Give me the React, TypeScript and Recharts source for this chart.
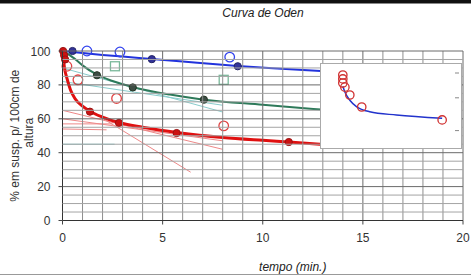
import React from 'react';
import { ComposedChart, Line, Scatter, XAxis, YAxis, Label } from 'recharts';

// ---- data ----
const xTicks = [0, 1, 2, 3, 4, 5, 6, 7, 8, 9, 10, 11, 12, 13, 14, 15, 16, 17, 18, 19, 20];
const xLabelTicks = [0, 5, 10, 15, 20];
const yTicks = [0, 5, 10, 15, 20, 25, 30, 35, 40, 45, 50, 55, 60, 65, 70, 75, 80, 85, 90, 95, 100];
const yLabelTicks = [0, 20, 40, 60, 80, 100];

const blueCurve = [
  { x: 0, y: 100 }, { x: 1, y: 98.8 }, { x: 2, y: 97.7 }, { x: 3, y: 96.7 }, { x: 4.46, y: 95.3 },
  { x: 6, y: 93.8 }, { x: 8.75, y: 91.2 }, { x: 10.5, y: 89.8 }, { x: 12.9, y: 88.2 },
];
const blueFilled = [{ x: 0.5, y: 100 }, { x: 4.46, y: 95.2 }, { x: 8.75, y: 91 }];
const blueOpen = [{ x: 1.22, y: 100 }, { x: 2.87, y: 99.4 }, { x: 8.35, y: 96.4 }];

const greenCurve = [
  { x: 0, y: 100 }, { x: 0.3, y: 98 }, { x: 0.6, y: 95.5 }, { x: 1, y: 91.5 }, { x: 1.72, y: 86 },
  { x: 2.5, y: 82.3 }, { x: 3.5, y: 78.8 }, { x: 5.36, y: 74.3 }, { x: 7.06, y: 71.3 },
  { x: 10, y: 68.3 }, { x: 12.9, y: 65.5 },
];
const greenFilled = [{ x: 1.72, y: 85.7 }, { x: 3.51, y: 78.5 }, { x: 7.06, y: 71.3 }];
const greenOpen = [{ x: 2.62, y: 91 }, { x: 8.05, y: 83 }];

const redCurve = [
  { x: 0, y: 100 }, { x: 0.05, y: 95 }, { x: 0.1, y: 90 }, { x: 0.22, y: 84 }, { x: 0.4, y: 77 },
  { x: 0.62, y: 72 }, { x: 1, y: 67.5 }, { x: 1.37, y: 64.5 }, { x: 2, y: 61 }, { x: 2.8, y: 57.8 },
  { x: 4, y: 55 }, { x: 5.8, y: 51.8 }, { x: 8, y: 49 }, { x: 10, y: 47.3 }, { x: 11.3, y: 46.3 },
  { x: 12.9, y: 45 },
];
const redFilled = [
  { x: 0.03, y: 100 }, { x: 0.08, y: 97.5 }, { x: 0.13, y: 95 },
  { x: 1.37, y: 64.2 }, { x: 2.82, y: 57.6 }, { x: 5.7, y: 51.6 }, { x: 11.3, y: 46.3 },
];
const redOpen = [{ x: 0.22, y: 91 }, { x: 0.77, y: 83 }, { x: 2.7, y: 72 }, { x: 8.05, y: 55.8 }];

const redTangents = [
  [{ x: 1.9, y: 61 }, { x: 6.4, y: 28.5 }],
  [{ x: 0, y: 65 }, { x: 8, y: 42 }],
  [{ x: 0, y: 60 }, { x: 8, y: 47 }],
  [{ x: 0, y: 57 }, { x: 2.5, y: 57 }],
  [{ x: 0, y: 54 }, { x: 2.2, y: 53.5 }],
];
const greenTangents = [
  [{ x: 0, y: 90 }, { x: 8, y: 64 }],
  [{ x: 0, y: 82 }, { x: 8, y: 68 }],
  [{ x: 0, y: 45 }, { x: 2.6, y: 45 }],
];

const insetPoints = [
  { x: 1.52, y: 87.8 }, { x: 1.52, y: 83 }, { x: 1.52, y: 78 }, { x: 1.67, y: 73 },
  { x: 2.03, y: 63.4 }, { x: 2.9, y: 48.8 }, { x: 8.77, y: 33 },
];
const insetCurve = [
  { x: 1.52, y: 74 }, { x: 1.67, y: 67 }, { x: 2.03, y: 57 }, { x: 2.54, y: 49 },
  { x: 3.48, y: 43 }, { x: 5.43, y: 39 }, { x: 8.77, y: 35 },
];
const insetTicks = [0, 20, 40, 60, 80, 100];

// ---- marker shapes ----
const filled = (fill: string, stroke: string, r = 3.6) => (p: any) =>
  <circle cx={p.cx} cy={p.cy} r={r} fill={fill} stroke={stroke} strokeWidth={1} />;
const openCircle = (stroke: string, r = 4.8) => (p: any) =>
  <circle cx={p.cx} cy={p.cy} r={r} fill="none" stroke={stroke} strokeWidth={1.3} />;
const openSquare = (stroke: string, s = 4.5) => (p: any) =>
  <rect x={p.cx - s} y={p.cy - s} width={2 * s} height={2 * s} fill="none" stroke={stroke} strokeWidth={1.3} />;

const font = '"Liberation Sans", Arial, sans-serif';
const PLOT_W = 400.5;
const PLOT_H = 169.5;

// x-axis tick: grid line across the plot + outward tick mark + label (multiples of 5)
const XTick = (p: any) => {
  const { x, y, payload } = p;
  const v = payload.value;
  const lab = xLabelTicks.includes(v);
  return (
    <g>
      <path d={`M${x},${y}V${y - PLOT_H}`} stroke={v === 0 ? '#333' : lab ? '#6a6a6a' : '#8e8e8e'} strokeWidth={1} fill="none" />
      {lab && <path d={`M${x},${y}v4`} stroke="#444" strokeWidth={1} />}
      {lab && (
        <text x={x} y={y + 21} textAnchor="middle" fontFamily={font} fontSize={12} fill="#333">{v}</text>
      )}
    </g>
  );
};

const YTick = (p: any) => {
  const { x, y, payload } = p;
  const v = payload.value;
  const lab = yLabelTicks.includes(v);
  return (
    <g>
      <path d={`M${x},${y}H${x + PLOT_W}`} stroke={v === 0 ? '#333' : lab ? '#6a6a6a' : '#a4a4a4'} strokeWidth={1} fill="none" />
      {lab && <path d={`M${x},${y}h-4`} stroke="#444" strokeWidth={1} />}
      {lab && (
        <text x={x - 12} y={y + 4.5} textAnchor="end" fontFamily={font} fontSize={12} fill="#333">{v}</text>
      )}
    </g>
  );
};

const InsetTick = (p: any) => {
  const { x, y } = p;
  return <path d={`M${x},${y}h-4`} stroke="#888" strokeWidth={1} />;
};

const YLabel = (props: any) => {
  const vb = props.viewBox || {};
  const cy = (vb.y ?? 51) + (vb.height ?? 169) / 2;
  return (
    <g>
      <text x={16} y={cy} transform={`rotate(-90 16 ${cy})`} textAnchor="middle" dominantBaseline="middle"
        fontFamily={font} fontSize={12} fill="#333">% em susp. p/ 100cm de</text>
      <text x={30} y={cy - 3} transform={`rotate(-90 30 ${cy - 3})`} textAnchor="middle" dominantBaseline="middle"
        fontFamily={font} fontSize={12} fill="#333">altura</text>
    </g>
  );
};

export default function App() {
  return (
    <div style={{ position: 'absolute', left: 0, top: 0, width: 471, height: 276, background: '#fff', overflow: 'hidden' }}>
      <div style={{ position: 'absolute', left: 0, top: 0, width: 471, height: 3, background: '#111' }} />
      <div style={{ position: 'absolute', left: 0, top: 3, width: 471, height: 1, background: '#888' }} />
      <div style={{ position: 'absolute', left: 0, top: 274, width: 471, height: 1, background: '#999' }} />
      <div style={{ position: 'absolute', left: 0, top: 6, width: 526, textAlign: 'center', fontFamily: font, fontStyle: 'italic', fontSize: 12, color: '#222' }}>
        Curva de Oden
      </div>
      <div style={{ position: 'absolute', left: 0, top: 0 }}>
        <ComposedChart width={471} height={276} margin={{ top: 51, right: 8, left: 0, bottom: 0 }}>
          <XAxis type="number" dataKey="x" domain={[0, 20]} ticks={xTicks} interval={0}
            height={55.5} axisLine={false} tickLine={false} tickSize={0} tickMargin={0} tick={<XTick />}>
            <Label value="tempo (min.)" position="insideBottom" dx={30} offset={5}
              style={{ fontFamily: font, fontStyle: 'italic', fontSize: 12, fill: '#222' }} />
          </XAxis>
          <YAxis type="number" dataKey="y" domain={[0, 100]} ticks={yTicks} interval={0}
            width={62.5} axisLine={false} tickLine={false} tickSize={0} tickMargin={0} tick={<YTick />}>
            <Label content={<YLabel />} />
          </YAxis>

          {redTangents.map((seg, i) => (
            <Line key={'rt' + i} data={seg} dataKey="y" type="linear" stroke="#e88" strokeWidth={1}
              dot={false} isAnimationActive={false} />
          ))}
          {greenTangents.map((seg, i) => (
            <Line key={'gt' + i} data={seg} dataKey="y" type="linear" stroke="#8cc" strokeWidth={1}
              dot={false} isAnimationActive={false} />
          ))}

          <Line data={blueCurve} dataKey="y" type="monotone" stroke="#2233dd" strokeWidth={2} dot={false} isAnimationActive={false} />
          <Line data={greenCurve} dataKey="y" type="monotone" stroke="#2e7a5a" strokeWidth={2} dot={false} isAnimationActive={false} />
          <Line data={redCurve} dataKey="y" type="monotone" stroke="#e01010" strokeWidth={3} dot={false} isAnimationActive={false} />

          <Scatter data={blueOpen} dataKey="y" shape={openCircle('#3344ee')} isAnimationActive={false} />
          <Scatter data={greenOpen} dataKey="y" shape={openSquare('#7ab89a')} isAnimationActive={false} />
          <Scatter data={redOpen} dataKey="y" shape={openCircle('#e04444')} isAnimationActive={false} />
          <Scatter data={blueFilled} dataKey="y" shape={filled('#333399', '#222266')} isAnimationActive={false} />
          <Scatter data={greenFilled} dataKey="y" shape={filled('#3d4d44', '#223322')} isAnimationActive={false} />
          <Scatter data={redFilled} dataKey="y" shape={filled('#cc1111', '#991111')} isAnimationActive={false} />
        </ComposedChart>
      </div>

      <div style={{ position: 'absolute', left: 320, top: 63, width: 142, height: 86, background: '#fff', border: '1px solid #aaa', boxSizing: 'border-box' }}>
        <ComposedChart width={140} height={84} margin={{ top: 1, right: 1, left: 1, bottom: 1 }}>
          <XAxis type="number" dataKey="x" domain={[0, 10]} hide />
          <YAxis type="number" dataKey="y" domain={[0, 100]} ticks={insetTicks} orientation="right"
            width={1} tickSize={0} tickMargin={0} tickLine={false} axisLine={false} tick={<InsetTick />} />
          <Line data={insetCurve} dataKey="y" type="monotone" stroke="#2233cc" strokeWidth={1.5} dot={false} isAnimationActive={false} />
          <Scatter data={insetPoints} dataKey="y" shape={openCircle('#d03030', 4.2)} isAnimationActive={false} />
        </ComposedChart>
      </div>
    </div>
  );
}
